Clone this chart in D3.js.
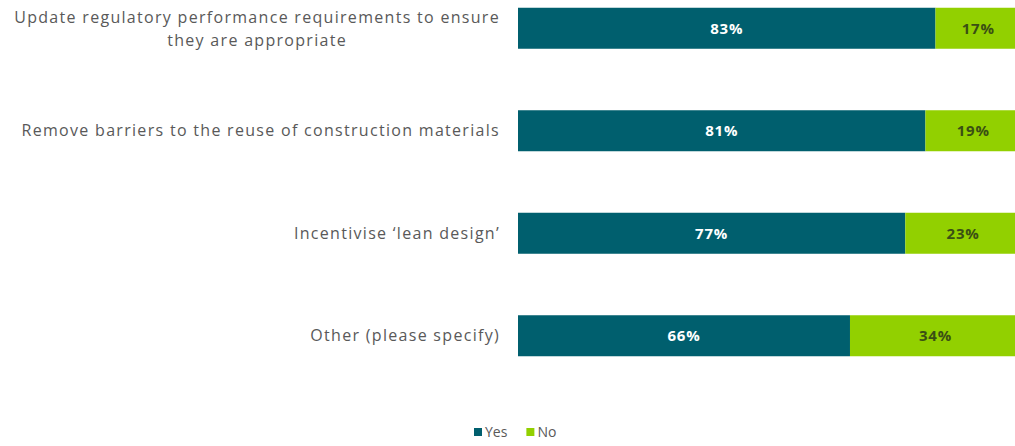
<!DOCTYPE html>
<html>
<head>
<meta charset="utf-8">
<script src="https://cdn.jsdelivr.net/npm/d3@7"></script>
<style>
  body { margin: 0; background: #fff; }
  svg { display: block; }
  .cat { font-family: "Open Sans", sans-serif; font-size: 16px; letter-spacing: 1.3px; fill: #595959; }
  .val { font-family: "Open Sans", sans-serif; font-size: 15px; font-weight: bold; letter-spacing: 0.8px; }
  .leg { font-family: "Open Sans", sans-serif; font-size: 14px; fill: #595959; }
</style>
</head>
<body>
<svg id="chart" width="1015" height="446"></svg>
<script>
const categories = [
  ["Update regulatory performance requirements to ensure", "they are appropriate"],
  ["Remove barriers to the reuse of construction materials"],
  ["Incentivise \u2018lean design\u2019"],
  ["Other (please specify)"]
];
const yesValues = [83, 81, 77, 66];
const noValues = [17, 19, 23, 34];
const seriesNames = ["Yes", "No"];
const colors = ["#005F6E", "#92D000"];

const svg = d3.select("#chart");
const ids = d3.range(categories.length);

const x = d3.scaleLinear().domain([0, 100]).range([518, 1021]);
const y = d3.scaleBand().domain(ids).range([-23, 387]).paddingInner(0.6).paddingOuter(0.3);

const rows = ids.map(i => ({ i, Yes: yesValues[i], No: noValues[i] }));
const stacked = d3.stack().keys(seriesNames)(rows);

// bars
const layer = svg.selectAll("g.layer")
  .data(stacked)
  .join("g")
  .attr("class", "layer")
  .attr("fill", (d, k) => colors[k]);

layer.selectAll("rect")
  .data(d => d)
  .join("rect")
  .attr("x", d => x(d[0]))
  .attr("y", d => y(d.data.i))
  .attr("width", d => x(d[1]) - x(d[0]))
  .attr("height", y.bandwidth());

// value labels
stacked.forEach((s, k) => {
  svg.append("g").selectAll("text")
    .data(s)
    .join("text")
    .attr("class", "val")
    .attr("x", d => (x(d[0]) + x(d[1])) / 2)
    .attr("y", d => y(d.data.i) + y.bandwidth() / 2)
    .attr("dy", "0.35em")
    .attr("text-anchor", "middle")
    .attr("fill", k === 0 ? "#ffffff" : "#3a4f14")
    .text(d => (d[1] - d[0]) + "%");
});

// category labels
ids.forEach(i => {
  const lines = categories[i];
  const cy = y(i) + y.bandwidth() / 2;
  const t = svg.append("text")
    .attr("class", "cat")
    .attr("text-anchor", "end")
    .attr("x", 500);
  if (lines.length === 1) {
    t.attr("y", cy).attr("dy", "0.35em").text(lines[0]);
  } else {
    // two-line label, second line centred under the first
    t.attr("y", cy - 11).attr("dy", "0.35em").text(lines[0]);
    const w = t.node().getComputedTextLength();
    svg.append("text")
      .attr("class", "cat")
      .attr("text-anchor", "middle")
      .attr("x", 500 - w / 2)
      .attr("y", cy + 12)
      .attr("dy", "0.35em")
      .text(lines[1]);
  }
});

// legend
const legend = svg.append("g").attr("transform", "translate(474,432)");
let lx = 0;
seriesNames.forEach((name, k) => {
  legend.append("rect").attr("x", lx).attr("y", -4).attr("width", 8).attr("height", 8).attr("fill", colors[k]);
  const lt = legend.append("text").attr("class", "leg").attr("x", lx + 11).attr("dy", "0.35em").text(name);
  lx += 11 + lt.node().getComputedTextLength() + 19;
});
</script>
</body>
</html>
